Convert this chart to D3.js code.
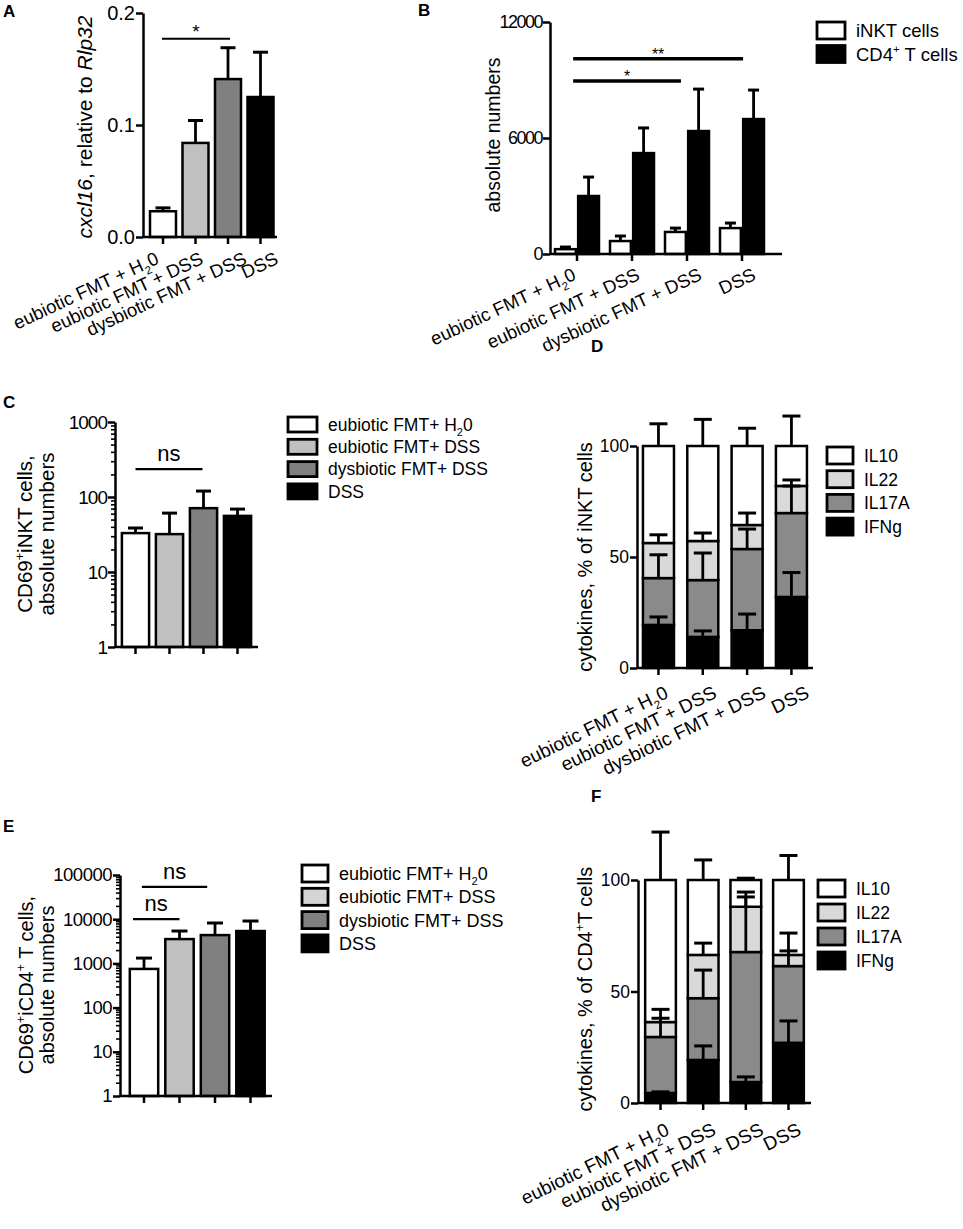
<!DOCTYPE html>
<html>
<head>
<meta charset="utf-8">
<script src="https://cdn.jsdelivr.net/npm/d3@7"></script>
<style>
  body { margin: 0; background: #fff; }
  svg { font-family: 'Liberation Sans', Arial, sans-serif; }
</style>
</head>
<body>
<svg id="fig" width="963" height="1229"></svg>
<script>
// ---- data ----
const groups = ["eubiotic FMT + H_{2}0", "eubiotic FMT + DSS", "dysbiotic FMT + DSS", "DSS"];
const legendGroups = ["eubiotic FMT+ H_{2}0", "eubiotic FMT+ DSS", "dysbiotic FMT+ DSS", "DSS"];
const groupFills = ["#ffffff", "#c0c0c0", "#808080", "#000000"];

// A: cxcl16 relative to Rlp32
const cxcl16Mean = [0.023, 0.084, 0.141, 0.125];
const cxcl16Sem = [0.003, 0.020, 0.028, 0.040];
const sigA = [{ from: -0.03, to: 2.06, level: 0.177, text: "*" }];

// B: absolute numbers
const cellTypes = ["iNKT cells", "CD4^{+} T cells"];
const cellFills = ["#ffffff", "#000000"];
const inktAbs = [250, 670, 1140, 1340];
const inktSem = [110, 260, 200, 260];
const cd4Abs = [3000, 5220, 6360, 6980];
const cd4Sem = [980, 1300, 2170, 1500];
const sigB = [
  { from: -0.07, to: 3.02, level: 10100, text: "**" },
  { from: -0.07, to: 1.89, level: 8950, text: "*" }
];

// C: CD69+ iNKT cells
const cd69Inkt = [33, 32, 71, 56];
const cd69InktSem = [5.6, 29, 49, 13];
const sigC = [{ from: 0, to: 1.97, level: 236, text: "ns" }];

// E: CD69+ CD4+ T cells
const cd69Cd4 = [750, 3550, 4370, 5400];
const cd69Cd4Sem = [570, 1850, 3830, 3700];
const sigE = [
  { from: -0.06, to: 1.78, level: 53700, text: "ns" },
  { from: -0.31, to: 1.0, level: 10000, text: "ns" }
];

// D, F: cytokine shares (stack order bottom -> top)
const cytokines = ["IFNg", "IL17A", "IL22", "IL10"];
const cytoFills = ["#000000", "#8a8a8a", "#d9d9d9", "#ffffff"];
const cytoLegend = ["IL10", "IL22", "IL17A", "IFNg"];

const inktIFNg = [19.4, 14.0, 17.0, 32.0];
const inktIL17A = [21.1, 25.6, 36.6, 37.8];
const inktIL22 = [15.8, 17.6, 10.8, 12.2];
const inktIL10 = [43.7, 42.8, 35.6, 18.0];
const inktErrIFNg = [3.6, 2.7, 7.3, 11.0];
const inktErrIL17A = [10.5, 12.2, 9.0, 12.2];
const inktErrIL22 = [3.7, 3.6, 5.4, 2.7];
const inktErrIL10 = [10.0, 12.0, 8.0, 13.5];

const cd4IFNg = [4.5, 19.3, 9.4, 27.0];
const cd4IL17A = [25.1, 27.7, 58.3, 34.4];
const cd4IL22 = [6.7, 19.4, 20.3, 5.0];
const cd4IL10 = [63.7, 33.6, 12.0, 33.6];
const cd4ErrIFNg = [0.5, 6.3, 2.3, 9.8];
const cd4ErrIL17A = [8.4, 12.6, 24.7, 6.8];
const cd4ErrIL22 = [5.7, 5.3, 6.6, 9.8];
const cd4ErrIL10 = [21.5, 9.0, 0.8, 11.0];

// ---- helpers ----
const svg = d3.select("#fig");
const NARROW = "'Liberation Sans Narrow', 'Liberation Sans', Arial, sans-serif";
const AXW = 2.5;

// tiny markup: _{sub} ^{sup} *{italic}
function rich(t, str, fs) {
  const parts = str.split(/(_\{[^}]*\}|\^\{[^}]*\}|\*\{[^}]*\})/).filter(s => s !== "");
  let shift = 0;
  parts.forEach(p => {
    let want = 0, txt = p, small = false, ital = false;
    if (p.startsWith("_{")) { want = 0.3 * fs; txt = p.slice(2, -1); small = true; }
    else if (p.startsWith("^{")) { want = -0.4 * fs; txt = p.slice(2, -1); small = true; }
    else if (p.startsWith("*{")) { txt = p.slice(2, -1); ital = true; }
    const ts = t.append("tspan").attr("dy", want - shift).text(txt);
    shift = want;
    if (small) ts.attr("font-size", fs * 0.62);
    if (ital) ts.attr("font-style", "italic");
  });
}

function bandX(r0, r1, pin, pout) {
  return d3.scaleBand().domain(groups).range([r0, r1]).paddingInner(pin).paddingOuter(pout);
}
const mid = (xs, d) => xs(d) + xs.bandwidth() / 2;
const idxScale = xs => d3.scaleLinear().domain([0, groups.length - 1])
  .range([mid(xs, groups[0]), mid(xs, groups[groups.length - 1])]);

function yAxis(g, ys, xPix, vals, fmt, fs, family, ls) {
  const a = g.append("g").attr("transform", `translate(${xPix},0)`)
    .call(d3.axisLeft(ys).tickValues(vals).tickFormat(fmt).tickSize(7).tickSizeOuter(0).tickPadding(1));
  a.attr("font-family", null).attr("font-size", null);
  a.select(".domain").attr("stroke-width", AXW);
  a.selectAll(".tick line").attr("stroke-width", AXW);
  a.selectAll(".tick text").attr("font-size", fs).attr("fill", "#000")
    .attr("font-family", family || null).attr("letter-spacing", ls || 0);
  return a;
}

function minorLog(g, ys, xPix, maxExp) {
  const vals = [];
  for (let e = 0; e < maxExp; e++) for (let k = 2; k <= 9; k++) vals.push(k * Math.pow(10, e));
  const a = g.append("g").attr("transform", `translate(${xPix},0)`)
    .call(d3.axisLeft(ys).tickValues(vals).tickFormat("").tickSize(4).tickSizeOuter(0));
  a.select(".domain").remove();
  a.selectAll(".tick line").attr("stroke-width", 1.6);
}

function xBase(g, xs, yPix, xStart, xEnd) {
  g.append("line").attr("x1", xStart).attr("x2", xEnd).attr("y1", yPix).attr("y2", yPix)
    .attr("stroke", "#000").attr("stroke-width", AXW);
  g.selectAll(null).data(groups).join("line")
    .attr("x1", d => mid(xs, d)).attr("x2", d => mid(xs, d))
    .attr("y1", yPix).attr("y2", yPix + 7)
    .attr("stroke", "#000").attr("stroke-width", AXW);
}

// rotated category labels; dxs = per-label horizontal nudge of the label end
function xLabels(g, xs, yPix, fs, dxs, dy, ang) {
  g.selectAll(null).data(groups).join("text")
    .attr("transform", (d, i) => `translate(${mid(xs, d) + dxs[i]},${yPix + dy}) rotate(${-ang})`)
    .attr("text-anchor", "end").attr("font-size", fs)
    .each(function (d) { rich(d3.select(this), d, fs); });
}

function bars(g, data, xOf, w, ys, fillOf) {
  g.selectAll(null).data(data).join("rect")
    .attr("x", (d, i) => xOf(d, i)).attr("width", w)
    .attr("y", d => ys(d.top)).attr("height", d => ys(d.base) - ys(d.top))
    .attr("fill", (d, i) => fillOf(d, i))
    .attr("stroke", "#000").attr("stroke-width", AXW);
}

function errBars(g, data, cxOf, ys, cap) {
  const e = g.selectAll(null).data(data).join("g");
  e.append("line").attr("x1", (d, i) => cxOf(d, i)).attr("x2", (d, i) => cxOf(d, i))
    .attr("y1", d => ys(d.top)).attr("y2", d => ys(d.top + d.err))
    .attr("stroke", "#000").attr("stroke-width", 2.8);
  e.append("line").attr("x1", (d, i) => cxOf(d, i) - cap / 2).attr("x2", (d, i) => cxOf(d, i) + cap / 2)
    .attr("y1", d => ys(d.top + d.err)).attr("y2", d => ys(d.top + d.err))
    .attr("stroke", "#000").attr("stroke-width", 3);
}

function sigMarks(g, ix, ys, anns, fs, lw, gap) {
  anns.forEach(a => {
    const y = ys(a.level);
    g.append("line").attr("x1", ix(a.from)).attr("x2", ix(a.to)).attr("y1", y).attr("y2", y)
      .attr("stroke", "#000").attr("stroke-width", lw);
    g.append("text").attr("x", (ix(a.from) + ix(a.to)) / 2).attr("y", y - gap)
      .attr("text-anchor", "middle").attr("font-size", fs).text(a.text);
  });
}

function legend(g, x, y0, step, items, fills, bw, bh, fs) {
  items.forEach((s, i) => {
    g.append("rect").attr("x", x).attr("y", y0 + i * step).attr("width", bw).attr("height", bh)
      .attr("fill", fills[i]).attr("stroke", "#000").attr("stroke-width", 2.8);
    const t = g.append("text").attr("x", x + bw + 11).attr("y", y0 + i * step + bh / 2 + fs * 0.36)
      .attr("font-size", fs);
    rich(t, s, fs);
  });
}

function yTitle(g, xs, yc, lines, fs) {
  lines.forEach((s, i) => {
    const t = g.append("text").attr("transform", `translate(${xs[i]},${yc}) rotate(-90)`)
      .attr("text-anchor", "middle").attr("font-size", fs);
    rich(t, s, fs);
  });
}

function letter(x, y, s) {
  svg.append("text").attr("x", x).attr("y", y).attr("font-size", 17).attr("font-weight", "bold").text(s);
}

function simpleData(means, sems) {
  return means.map((m, i) => ({ base: 0, top: m, err: sems[i] }));
}
function logData(means, sems) {
  return means.map((m, i) => ({ base: 1, top: m, err: sems[i] }));
}

// ---- Panel A ----
{
  const g = svg.append("g");
  const xs = bandX(146.75, 276.75, 0.2, 0.1);
  const ys = d3.scaleLinear().domain([0, 0.2]).range([237, 13]);
  const data = simpleData(cxcl16Mean, cxcl16Sem);
  errBars(g, data, (d, i) => mid(xs, groups[i]), ys, 15);
  bars(g, data, (d, i) => xs(groups[i]), xs.bandwidth(), ys, (d, i) => groupFills[i]);
  yAxis(g, ys, 143, [0, 0.1, 0.2], d3.format(".1f"), 20);
  xBase(g, xs, 237, 143, 277);
  xLabels(g, xs, 237, 18.5, [-3, 9, 20, 19], 26, 25);
  sigMarks(g, idxScale(xs), ys, sigA, 19, 2, 1);
  yTitle(g, [92], 127, ["*{cxcl16}, relative to *{Rlp32}"], 21);
  letter(3, 17, "A");
}

// ---- Panel B ----
{
  const g = svg.append("g");
  const xs = bandX(549.5, 769.5, 0.2, 0.1);
  const sub = d3.scaleBand().domain(cellTypes).range([0, xs.bandwidth()]).paddingInner(0.1);
  const ys = d3.scaleLinear().domain([0, 12000]).range([254, 22]);
  const series = [simpleData(inktAbs, inktSem), simpleData(cd4Abs, cd4Sem)];
  series.forEach((data, k) => {
    const xOf = (d, i) => xs(groups[i]) + sub(cellTypes[k]);
    errBars(g, data, (d, i) => xOf(d, i) + sub.bandwidth() / 2, ys, 11);
    bars(g, data, xOf, sub.bandwidth(), ys, () => cellFills[k]);
  });
  yAxis(g, ys, 550, [0, 6000, 12000], d3.format("d"), 18, NARROW, -1.5);
  xBase(g, xs, 254, 550, 782);
  xLabels(g, xs, 254, 18.5, [0, 9, 16, 15], 25, 25);
  sigMarks(g, idxScale(xs), ys, sigB, 16, 3.5, -1);
  yTitle(g, [500], 135, ["absolute numbers"], 19.5);
  legend(g, 817, 22, 23.5, cellTypes, cellFills, 28, 17, 18.5);
  letter(418, 16, "B");
}

// ---- Panel C ----
{
  const g = svg.append("g");
  const xs = bandX(118.5, 254.5, 0.2, 0.1);
  const ys = d3.scaleLog().domain([1, 1000]).range([647, 422]);
  const data = logData(cd69Inkt, cd69InktSem);
  errBars(g, data, (d, i) => mid(xs, groups[i]), ys, 15);
  bars(g, data, (d, i) => xs(groups[i]), xs.bandwidth(), ys, (d, i) => groupFills[i]);
  minorLog(g, ys, 115, 3);
  yAxis(g, ys, 115, [1, 10, 100, 1000], d3.format("d"), 19, NARROW, -1);
  xBase(g, xs, 647, 115, 258);
  sigMarks(g, idxScale(xs), ys, sigC, 22, 2.2, 8);
  yTitle(g, [32, 54], 534, ["CD69^{+}iNKT cells,", "absolute numbers"], 20.5);
  legend(g, 288, 417, 22.3, legendGroups, groupFills, 29, 15, 17.5);
  letter(3, 408, "C");
}

// ---- Panel D ----
function stacked(g, xs, ys, segs, errs) {
  const rows = groups.map((grp, i) => {
    const r = {};
    cytokines.forEach((c, k) => { r[c] = segs[k][i]; });
    return r;
  });
  const st = d3.stack().keys(cytokines)(rows);
  st.forEach((layer, k) => {
    const data = layer.map((p, i) => ({ base: p[0], top: p[1], err: errs[k][i] }));
    bars(g, data, (d, i) => xs(groups[i]), xs.bandwidth(), ys, () => cytoFills[k]);
  });
  st.forEach((layer, k) => {
    const data = layer.map((p, i) => ({ base: p[0], top: p[1], err: errs[k][i] }));
    errBars(g, data, (d, i) => mid(xs, groups[i]), ys, 18);
  });
}
{
  const g = svg.append("g");
  const xs = bandX(636.3, 813.6, 0.3, 0.15);
  const ys = d3.scaleLinear().domain([0, 100]).range([668, 446]);
  stacked(g, xs, ys, [inktIFNg, inktIL17A, inktIL22, inktIL10],
    [inktErrIFNg, inktErrIL17A, inktErrIL22, inktErrIL10]);
  yAxis(g, ys, 637, [0, 50, 100], d3.format("d"), 17.5);
  xBase(g, xs, 668, 637, 813);
  xLabels(g, xs, 668, 19, [11, 15, 20, 19], 29, 26);
  yTitle(g, [592], 557, ["cytokines, % of iNKT cells"], 20);
  legend(g, 827, 447, 23.7, cytoLegend, cytoFills.slice().reverse(), 26, 17, 17.5);
  letter(591, 352, "D");
}

// ---- Panel E ----
{
  const g = svg.append("g");
  const xs = bandX(126.25, 268.25, 0.2, 0.1);
  const ys = d3.scaleLog().domain([1, 100000]).range([1096, 875]);
  const data = logData(cd69Cd4, cd69Cd4Sem);
  errBars(g, data, (d, i) => mid(xs, groups[i]), ys, 16);
  bars(g, data, (d, i) => xs(groups[i]), xs.bandwidth(), ys, (d, i) => groupFills[i]);
  minorLog(g, ys, 120, 5);
  yAxis(g, ys, 120, [1, 10, 100, 1000, 10000, 100000], d3.format("d"), 18.5, NARROW, -0.5);
  xBase(g, xs, 1096, 120, 272);
  sigMarks(g, idxScale(xs), ys, sigE, 22, 2.2, 8);
  yTitle(g, [33, 54], 985, ["CD69^{+}iCD4^{+} T cells,", "absolute numbers"], 20);
  legend(g, 302, 865, 23.3, legendGroups, ["#ffffff", "#d4d4d4", "#808080", "#000000"], 26, 17, 18);
  letter(3, 832, "E");
}

// ---- Panel F ----
{
  const g = svg.append("g");
  const xs = bandX(639.2, 809.8, 0.28, 0.14);
  const ys = d3.scaleLinear().domain([0, 100]).range([1103, 880]);
  stacked(g, xs, ys, [cd4IFNg, cd4IL17A, cd4IL22, cd4IL10],
    [cd4ErrIFNg, cd4ErrIL17A, cd4ErrIL22, cd4ErrIL10]);
  yAxis(g, ys, 638, [0, 50, 100], d3.format("d"), 17.5);
  xBase(g, xs, 1103, 638, 811);
  xLabels(g, xs, 1103, 19, [10, 14, 19, 14], 31, 26);
  yTitle(g, [592], 989, ["cytokines, % of CD4^{+}T cells"], 20);
  legend(g, 818, 880, 24, cytoLegend, cytoFills.slice().reverse(), 27, 17, 17.5);
  letter(591, 802, "F");
}
</script>
</body>
</html>
